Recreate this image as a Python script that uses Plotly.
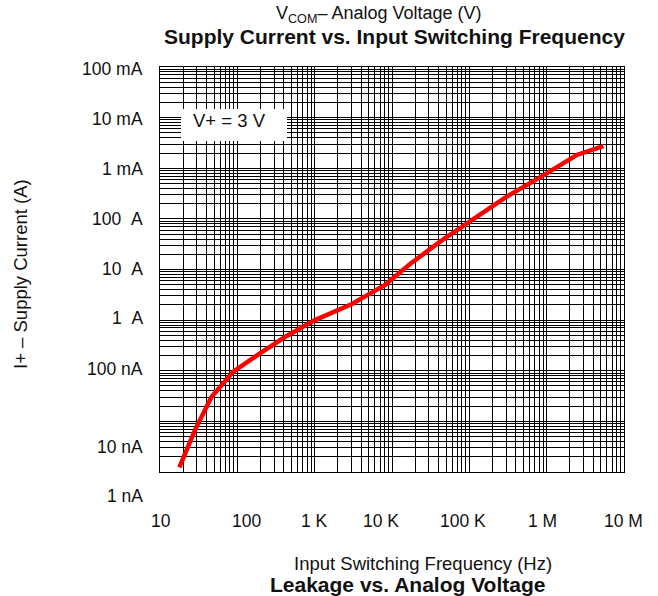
import plotly.graph_objects as go

# ---- data ----
freq_hz = [17.8, 28.4, 46.5, 88.7, 196, 413, 1009, 3040, 8130, 17100,
           41800, 112000, 304000, 820000, 2.45e6, 5.41e6]
supply_a = [1.24e-9, 6.8e-9, 3.07e-8, 9.6e-8, 2.21e-7, 4.64e-7, 1.0e-6, 2.08e-6,
            4.94e-6, 1.28e-5, 3.54e-5, 9.5e-5, 2.74e-4, 6.62e-4, 1.83e-3, 2.75e-3]

x_tick_labels = ["10", "100", "1 K", "10 K", "100 K", "1 M", "10 M"]
y_tick_labels = ["100 mA", "10 mA", "1 mA", "100\u00a0\u00a0A", "10\u00a0\u00a0A",
                 "1\u00a0\u00a0A", "100 nA", "10 nA", "1 nA"]

# ---- layout geometry (page pixels) ----
W, H = 658, 596
L, R, T, B = 160, 624, 67, 472
PW, PH = R - L, B - T

def px(xp):
    return (xp - L) / PW

def py(yp):
    return (B - yp) / PH

x_label_px = [161, 246, 314, 380.5, 463, 542, 623]
y_label_py = [68, 118, 168, 218, 268, 317, 368, 446, 495]

FONT = "Liberation Sans, Arial, sans-serif"
TXT = "#111111"

x_grid = [m * 10 ** e for e in range(1, 7) for m in range(1, 10)] + [1e7]
y_grid = [m * 10 ** e for e in range(-9, -1) for m in range(1, 10)] + [1e-1]

fig = go.Figure()
fig.add_trace(go.Scatter(x=freq_hz, y=supply_a, mode="lines",
                         line=dict(color="#ff0000", width=4.5),
                         showlegend=False, hoverinfo="skip"))

fig.update_layout(
    width=W, height=H,
    margin=dict(l=L, r=W - R, t=T, b=H - B),
    paper_bgcolor="white", plot_bgcolor="white",
    font=dict(family=FONT, color=TXT),
    showlegend=False,
)
fig.update_xaxes(type="log", range=[1, 7], tickvals=x_grid, showticklabels=False,
                 showgrid=True, gridcolor="#000000", gridwidth=1, ticks="",
                 showline=True, linecolor="#000000", linewidth=1.2, mirror=True,
                 zeroline=False)
fig.update_yaxes(type="log", range=[-9, -1], tickvals=y_grid, showticklabels=False,
                 showgrid=True, gridcolor="#000000", gridwidth=1, ticks="",
                 showline=True, linecolor="#000000", linewidth=1.2, mirror=True,
                 zeroline=False)

ann = []
for lab, xp in zip(x_tick_labels, x_label_px):
    ann.append(dict(text=lab, x=px(xp), y=py(521), xref="paper", yref="paper",
                    xanchor="center", yanchor="middle", showarrow=False,
                    font=dict(size=17.5, family=FONT, color=TXT)))
for lab, yp in zip(y_tick_labels, y_label_py):
    ann.append(dict(text=lab, x=px(145), y=py(yp + 1), xref="paper", yref="paper",
                    xanchor="right", yanchor="middle", showarrow=False,
                    font=dict(size=17.5, family=FONT, color=TXT)))

ann += [
    dict(text="V<sub>COM</sub>\u2013 Analog Voltage (V)", x=px(379), y=py(14),
         xref="paper", yref="paper", xanchor="center", yanchor="middle",
         showarrow=False, font=dict(size=18, family=FONT, color=TXT)),
    dict(text="<b>Supply Current vs. Input Switching Frequency</b>", x=px(394), y=py(37),
         xref="paper", yref="paper", xanchor="center", yanchor="middle",
         showarrow=False, font=dict(size=21, family=FONT, color=TXT)),
    dict(text="Input Switching Frequency (Hz)", x=px(423), y=py(563),
         xref="paper", yref="paper", xanchor="center", yanchor="middle",
         showarrow=False, font=dict(size=18.5, family=FONT, color=TXT)),
    dict(text="<b>Leakage vs. Analog Voltage</b>", x=px(407), y=py(584),
         xref="paper", yref="paper", xanchor="center", yanchor="middle",
         showarrow=False, font=dict(size=21, family=FONT, color=TXT)),
    dict(text="I+ \u2013 Supply Current (A)", x=px(20), y=py(274), textangle=-90,
         xref="paper", yref="paper", xanchor="center", yanchor="middle",
         showarrow=False, font=dict(size=18.5, family=FONT, color=TXT)),
    dict(text="V+ = 3 V", x=px(229.5), y=py(121),
         xref="paper", yref="paper", xanchor="center", yanchor="middle",
         showarrow=False, font=dict(size=18.5, family=FONT, color=TXT)),
]
fig.update_layout(annotations=ann)

fig.add_shape(type="rect", xref="paper", yref="paper",
              x0=px(181), x1=px(287), y0=py(141), y1=py(109),
              fillcolor="white", line=dict(width=0), layer="above")

fig.write_html("out.html", config={"displayModeBar": False},
               post_script="document.body.style.margin='0';document.body.style.overflow='hidden';")
